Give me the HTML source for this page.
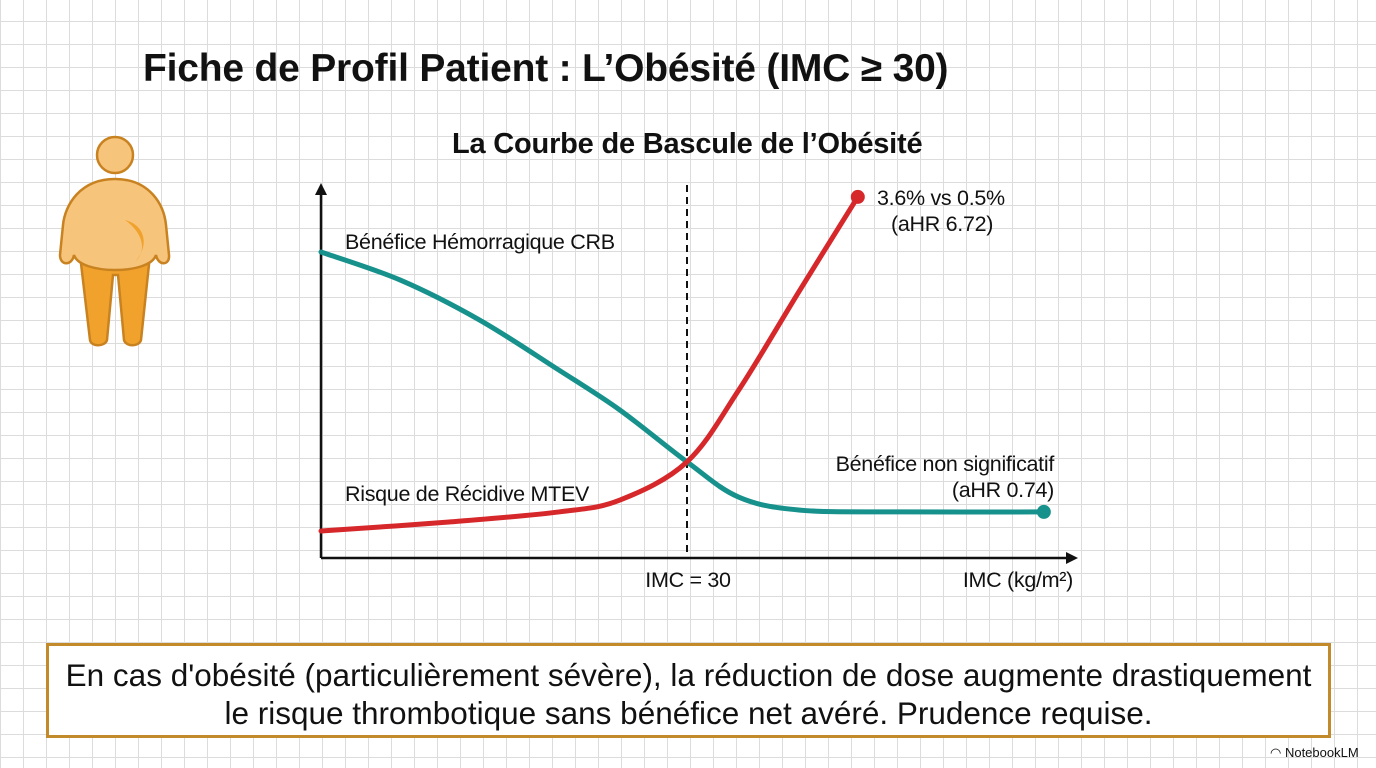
<!DOCTYPE html>
<html><head><meta charset="utf-8"><style>
body{margin:0;width:1376px;height:768px;overflow:hidden;font-family:"Liberation Sans",sans-serif;background:#fff;
background-image:linear-gradient(#dcdcdc 1px,transparent 1px),linear-gradient(90deg,#dcdcdc 1px,transparent 1px);
background-size:23px 23px;background-position:0 21px,0 0;position:relative}
.t{position:absolute;white-space:nowrap;color:#111}
</style></head><body>
<div class="t" style="left:143px;top:47px;font-size:39px;font-weight:bold;letter-spacing:-0.2px">Fiche de Profil Patient : L’Obésité (IMC ≥ 30)</div>
<svg style="position:absolute;left:55px;top:135px" width="120" height="220" viewBox="55 135 120 220">
<path d="M80 255 L90 340 C91 347 105 347 107 340 L113 275 L118 275 L124 340 C126 347 139 347 141 340 L150 255 Z" fill="#f0a22c" stroke="#c98220" stroke-width="2.5"/>
<path d="M115 179 C80 179 65 205 63 225 L60 255 C60 266 72 266 74 255 C80 275 150 275 156 255 C158 266 170 266 169 255 L166 225 C164 205 150 179 115 179 Z" fill="#f7c47c" stroke="#c98220" stroke-width="2.5"/>
<path d="M125 220 C145 225 150 245 135 262 C148 250 142 232 125 220Z" fill="#f0a22c"/>
<circle cx="115" cy="155" r="18" fill="#f7c47c" stroke="#c98220" stroke-width="2.5"/>
</svg>
<div class="t" style="left:452px;top:128px;font-size:29px;font-weight:bold;letter-spacing:-0.2px">La Courbe de Bascule de l’Obésité</div>
<svg id="chart" style="position:absolute;left:0;top:0" width="1376" height="768"></svg>
<div style="position:absolute;left:46px;top:643px;width:1279px;border:3px solid #c38a2b;background:#fff;font-size:31.5px;text-align:center;line-height:38px;padding-top:10px;height:79px;color:#111">En cas d'obésité (particulièrement sévère), la réduction de dose augmente drastiquement<br>le risque thrombotique sans bénéfice net avéré. Prudence requise.</div>
<div class="t" style="left:1270px;top:745px;font-size:13px">◠ NotebookLM</div>
<script>
const bmiTeal=[18,20.6,23.2,25.8,27.8,30,31.7,33.7,37,41.7];
const valTeal=[85,77.2,66.1,52.2,41.1,26.7,16.9,13.3,12.8,12.8];
const bmiRed=[18,22.2,25.8,27.8,30,31.7,33.7,35.6];
const valRed=[7.5,10,12.8,16.1,26.7,46.7,74.4,100.3];
const threshold=30;
const NS="http://www.w3.org/2000/svg",svg=document.getElementById('chart');
const X=b=>321+(b-18)*30.5, Y=v=>558-v*3.6;
function el(t,a){const e=document.createElementNS(NS,t);for(const k in a)e.setAttribute(k,a[k]);svg.appendChild(e);return e;}
function path(xs,ys){const p=xs.map((x,i)=>[X(x),Y(ys[i])]);let d=`M${p[0][0]},${p[0][1]}`;
for(let i=0;i<p.length-1;i++){const p0=p[i-1]||p[i],p1=p[i],p2=p[i+1],p3=p[i+2]||p2;
d+=` C${p1[0]+(p2[0]-p0[0])/6},${p1[1]+(p2[1]-p0[1])/6} ${p2[0]-(p3[0]-p1[0])/6},${p2[1]-(p3[1]-p1[1])/6} ${p2[0]},${p2[1]}`;}return d;}
let a=el('line',{x1:321,y1:558,x2:321,y2:190,stroke:'#111','stroke-width':2.5});

a=el('line',{x1:321,y1:558,x2:1072,y2:558,stroke:'#111','stroke-width':2.5});

el('path',{d:'M315,195 L321,183 L327,195Z',fill:'#111'});
el('path',{d:'M1066,552 L1078,558 L1066,564Z',fill:'#111'});
a=el('line',{x1:X(threshold),y1:185,x2:X(threshold),y2:558,stroke:'#111','stroke-width':2,'stroke-dasharray':'7,5'});

let t=el('path',{d:path(bmiTeal,valTeal),fill:'none',stroke:'#17918c','stroke-width':5,'stroke-linecap':'round'});

let r=el('path',{d:path(bmiRed,valRed),fill:'none',stroke:'#d6282b','stroke-width':5,'stroke-linecap':'round'});

let c=el('circle',{cx:X(bmiTeal[bmiTeal.length-1]),cy:Y(valTeal[valTeal.length-1]),r:7,fill:'#17918c'});

c=el('circle',{cx:X(bmiRed[bmiRed.length-1]),cy:Y(valRed[valRed.length-1]),r:7,fill:'#d6282b'});

const labels=[['Bénéfice Hémorragique CRB',345,249,'start','benefit-label'],['Risque de Récidive MTEV',345,501,'start','risk-label'],
['3.6% vs 0.5%',877,205,'start','risk-end-label'],['(aHR 6.72)',891,231,'start','risk-hr-label'],
['Bénéfice non significatif',1054,471,'end','benefit-end-label'],['(aHR 0.74)',1054,497,'end','benefit-hr-label'],
['IMC = 30',688,587,'middle','threshold-label'],['IMC (kg/m²)',1073,587,'end','x-axis-title']];
labels.forEach(l=>{const e=el('text',{x:l[1],y:l[2],'text-anchor':l[3],'font-size':21.5,fill:'#111','font-family':'Liberation Sans, sans-serif','letter-spacing':'-0.3'});e.textContent=l[0];
});
</script>
</body></html>
